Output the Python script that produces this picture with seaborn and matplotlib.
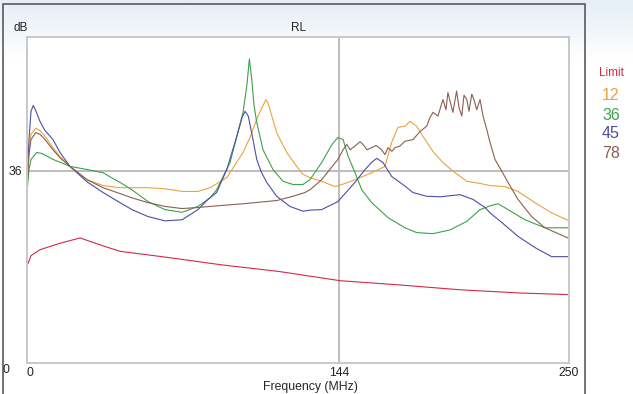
import numpy as np
import pandas as pd
import matplotlib
matplotlib.use("Agg")
import matplotlib.pyplot as plt
import matplotlib.transforms as mtransforms
import seaborn as sns
from matplotlib.patches import Rectangle
from matplotlib.colors import LinearSegmentedColormap

# Return loss traces (frequency in MHz, RL in dB)
freq_limit = [0.7, 2.1, 6.2, 15.4, 24.7, 33.9, 43.1, 66.1, 89.2, 116.8, 144.5, 172.1, 199.8, 227.4, 250.0]
db_limit = [18.6, 20.1, 21.2, 22.4, 23.4, 22.1, 20.9, 19.7, 18.4, 17.1, 15.4, 14.6, 13.7, 13.1, 12.8]

freq_12 = [0.14, 1.15, 2.07, 4.24, 6.22, 8.53, 12.21, 15.44, 20.0, 27.9, 35.3, 43.1, 56.0, 63.8, 71.7,
           79.0, 84.6, 92.3, 99.8, 103.0, 106.1, 108.5, 110.4, 111.3, 112.2, 115.3, 119.9, 124.5, 127.4,
           130.6, 136.0, 142.2, 146.8, 151.4, 159.1, 165.2, 168.3, 171.2, 174.4, 176.7, 179.8, 182.7,
           187.3, 191.9, 196.5, 202.9, 209.0, 213.6, 220.5, 226.5, 234.3, 242.0, 249.5]
db_12 = [32.4, 39.9, 42.8, 43.9, 43.5, 42.4, 40.3, 38.6, 36.8, 34.3, 33.2, 32.8, 32.8, 32.6, 32.1,
         32.1, 32.8, 34.7, 39.4, 42.2, 45.6, 47.8, 49.3, 48.6, 47.4, 43.1, 39.4, 36.8, 35.3,
         34.7, 34.0, 33.0, 33.6, 34.3, 35.6, 36.8, 41.3, 44.1, 44.3, 45.2, 44.3, 42.4,
         39.6, 37.5, 35.9, 34.0, 33.6, 33.2, 33.0, 32.1, 30.0, 28.1, 26.7]

freq_36 = [0.23, 1.15, 2.07, 4.70, 7.14, 12.21, 20.0, 27.9, 35.3, 40.8, 43.1, 48.6, 56.0, 63.8, 71.7,
           79.0, 84.6, 87.6, 93.8, 99.8, 101.6, 102.7, 103.8, 104.8, 106.1, 109.0, 113.6, 118.2, 122.8,
           127.4, 130.6, 136.0, 140.8, 143.5, 145.9, 148.2, 151.4, 154.5, 159.1, 166.6, 174.4, 179.8,
           187.3, 195.2, 202.9, 209.0, 213.6, 217.3, 221.9, 229.7, 238.9, 249.5]
db_36 = [31.9, 36.2, 38.1, 39.4, 39.2, 38.1, 36.8, 36.2, 35.6, 34.3, 33.8, 32.4, 30.2, 28.7, 28.2,
         29.3, 30.9, 32.4, 37.5, 46.9, 52.1, 56.9, 53.1, 48.4, 45.0, 39.9, 36.2, 34.0, 33.4,
         33.4, 34.3, 37.5, 40.9, 42.2, 41.8, 38.7, 35.6, 32.4, 30.0, 27.2, 25.3, 24.4,
         24.2, 24.9, 26.5, 28.7, 29.4, 29.8, 28.7, 26.8, 25.3, 25.3]

freq_45 = [0.1, 1.15, 2.07, 3.13, 4.38, 6.22, 8.53, 12.21, 15.44, 20.0, 27.9, 35.3, 43.1, 48.6, 56.0,
           63.8, 71.7, 79.0, 83.6, 87.6, 92.3, 96.9, 99.3, 100.7, 102.2, 103.9, 106.1, 108.1, 110.7,
           115.3, 121.4, 127.4, 130.6, 136.0, 143.5, 151.4, 156.0, 159.2, 161.4, 164.3, 168.3, 174.4,
           178.1, 184.4, 190.6, 195.2, 199.8, 205.8, 211.3, 213.6, 219.0, 226.5, 234.3, 242.0, 249.5]
db_45 = [32.4, 41.8, 47.1, 48.2, 47.1, 45.2, 43.5, 41.8, 39.4, 36.8, 33.9, 31.9, 30.0, 28.7, 27.4,
         26.6, 26.8, 28.7, 30.6, 31.9, 36.2, 42.4, 45.9, 47.1, 46.2, 42.8, 38.1, 35.8, 33.8,
         31.2, 29.3, 28.4, 28.6, 28.7, 30.2, 33.8, 36.2, 37.6, 38.3, 37.5, 34.9, 33.1,
         31.9, 31.2, 31.1, 31.3, 31.5, 30.6, 29.1, 28.1, 26.3, 23.7, 21.6, 19.9, 19.9]

freq_78 = [0.23, 1.15, 2.07, 4.24, 6.22, 8.53, 12.21, 15.44, 20.0, 27.9, 35.3, 43.1, 48.6, 56.0, 63.8,
           71.7, 79.0, 84.6, 99.8, 107.6, 115.3, 122.8, 128.3, 130.6, 136.0, 143.5, 145.9, 147.6, 149.1,
           151.4, 153.7, 155.1, 156.9, 159.1, 161.1, 163.7, 165.2, 166.6, 168.4, 169.8, 172.1, 174.4,
           178.1, 181.3, 184.4, 185.9, 187.3, 189.6, 191.9, 193.3, 194.2, 196.5, 198.2, 199.3, 200.6,
           201.6, 202.9, 203.9, 205.2, 206.2, 207.5, 209.0, 210.4, 212.1, 213.6, 215.9, 219.0, 221.9,
           226.5, 232.8, 238.9, 249.5]
db_78 = [32.6, 39.0, 41.8, 43.1, 42.8, 41.8, 39.9, 38.4, 36.8, 34.3, 32.8, 31.7, 30.9, 30.0, 29.3,
         28.9, 29.1, 29.3, 29.8, 30.1, 30.4, 31.2, 31.9, 32.4, 34.3, 38.1, 39.9, 40.9, 39.9,
         40.6, 41.4, 40.9, 39.9, 40.3, 40.7, 39.9, 39.0, 40.3, 39.6, 40.3, 40.6, 41.5,
         41.8, 43.3, 44.3, 45.9, 46.9, 46.2, 49.3, 47.4, 50.6, 46.9, 50.9, 47.8, 46.2,
         50.1, 49.3, 47.1, 50.3, 49.3, 47.4, 49.3, 46.2, 43.7, 41.3, 38.1, 35.9, 33.8,
         30.6, 27.4, 25.3, 23.4]

series_names = ["Limit", "12", "36", "45", "78"]
series_colors = ["#d22a47", "#e9a33f", "#3ca24c", "#4b4fa6", "#8c5e53"]

frames = []
for name, f, d in zip(series_names,
                      [freq_limit, freq_12, freq_36, freq_45, freq_78],
                      [db_limit, db_12, db_36, db_45, db_78]):
    frames.append(pd.DataFrame({"freq": f, "db": d, "series": name}))
df = pd.concat(frames, ignore_index=True)

sns.set_style("white")
plt.rcParams["font.family"] = ["Liberation Sans", "DejaVu Sans"]

W, H = 633, 394
fig = plt.figure(figsize=(W / 100, H / 100), dpi=100)
fig.patch.set_facecolor("white")

# soft bluish gradient at the top of the panel
bg = fig.add_axes([0, 0, 1, 1], zorder=-10)
grad = np.linspace(1, 0, 200).reshape(-1, 1)
cmap = LinearSegmentedColormap.from_list("bg", ["#ffffff", "#e6eef7"])
bg.imshow(grad, extent=[0, 1, 0, 1], aspect="auto", cmap=cmap, vmin=0.85, vmax=1.0)
bg.axis("off")
bg.add_patch(Rectangle((3 / W, -0.05), 582 / W, 1 - 4 / H + 0.05, transform=bg.transAxes,
                       facecolor="none", edgecolor="#5a5a5a", lw=1.2))

ax = fig.add_axes([26.5 / W, 1 - 363 / H, (569 - 26.5) / W, (363 - 37) / H])
ax.set_facecolor("white")
ax.axvline(144, color="#bdbdbd", lw=1.4, zorder=0)
ax.axhline(36, color="#bdbdbd", lw=1.4, zorder=0)

sns.lineplot(data=df, x="freq", y="db", hue="series", hue_order=series_names,
             palette=dict(zip(series_names, series_colors)), estimator=None,
             lw=0.8, legend=False, ax=ax)

ax.set_xlim(0, 250)
ax.set_ylim(0, 61)
ax.set_xticks([0, 144, 250])
ax.set_yticks([36])
ax.tick_params(length=0, labelsize=8.8, pad=3, colors="#222222")
ax.set_xlabel("")
ax.set_ylabel("")
for s in ax.spines.values():
    s.set_color("#c8c8c8")
    s.set_linewidth(1.4)
# first x label sits a little right of the axis
first = ax.get_xticklabels()[0]
first.set_transform(first.get_transform() + mtransforms.ScaledTranslation(3.5 / 100, 0, fig.dpi_scale_trans))

fig.text(13 / W, 1 - 28 / H, "dB", ha="left", va="center", fontsize=8.5)
fig.text(299 / W, 1 - 28 / H, "RL", ha="center", va="center", fontsize=8.5)
fig.text(6 / W, 1 - 370 / H, "0", ha="center", va="center", fontsize=8.8)
fig.text(310 / W, 1 - 387 / H, "Frequency (MHz)", ha="center", va="center", fontsize=8.8)

legend_y = [73, 95, 115, 134, 154]
for name, col, y in zip(series_names, series_colors, legend_y):
    fig.text(611 / W, 1 - y / H, name, ha="center", va="center", color=col,
             fontsize=8.5 if name == "Limit" else 11.5)

fig.savefig("out.png", dpi=100)
